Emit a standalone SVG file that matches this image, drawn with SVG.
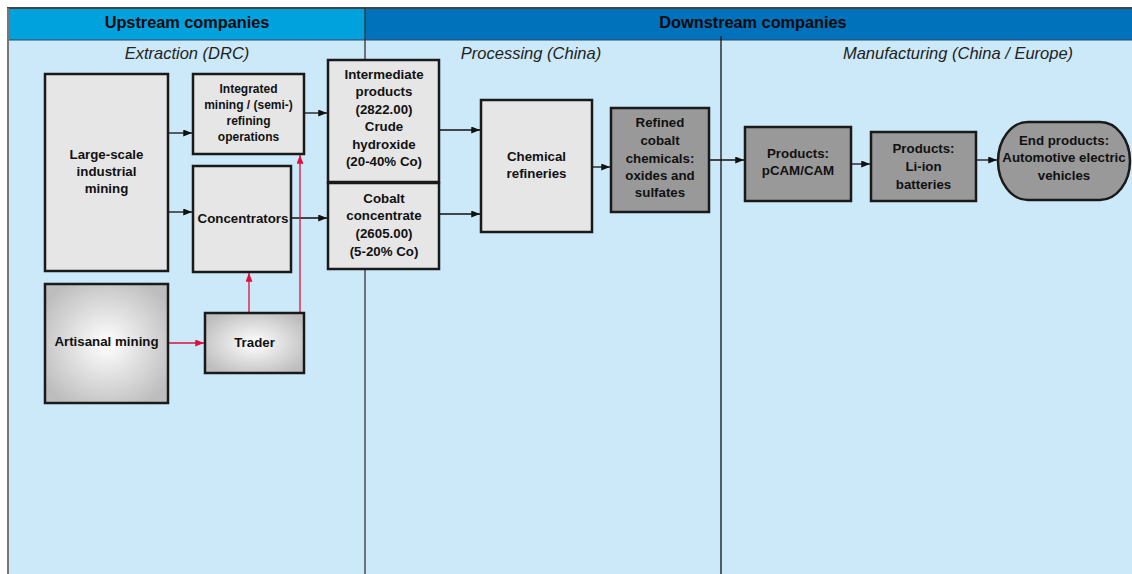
<svg xmlns="http://www.w3.org/2000/svg" width="1132" height="574" viewBox="0 0 1132 574">
<style>
.t{font-family:"Liberation Sans",Arial,sans-serif;font-weight:bold;font-size:13.3px;fill:#111;text-anchor:middle}
.h{font-family:"Liberation Sans",Arial,sans-serif;font-weight:bold;font-size:16.3px;fill:#0a0a0a;text-anchor:middle}
.s{font-family:"Liberation Sans",Arial,sans-serif;font-style:italic;font-size:16.5px;fill:#222;text-anchor:middle}
.box{fill:#e6e6e6;stroke:#1a1a1a;stroke-width:2.5}
.dk{fill:#999999;stroke:#1a1a1a;stroke-width:2.5}
.gr{fill:url(#rg);stroke:#1a1a1a;stroke-width:2.5}
.c{stroke:#111;stroke-width:1.3;fill:none;marker-end:url(#ab)}
.r{stroke:#e0103a;stroke-width:1.3;fill:none;marker-end:url(#ar)}
</style>
<defs>
<radialGradient id="rg" cx="0.5" cy="0.5" r="0.6">
<stop offset="0" stop-color="#ffffff"/>
<stop offset="1" stop-color="#bdbdbd"/>
</radialGradient>
<marker id="ab" viewBox="0 0 10 8" refX="10" refY="4" markerWidth="10" markerHeight="7" markerUnits="userSpaceOnUse" orient="auto"><path d="M0,0 L10,4 L0,8 Z" fill="#111"/></marker>
<marker id="ar" viewBox="0 0 10 8" refX="10" refY="4" markerWidth="10" markerHeight="7" markerUnits="userSpaceOnUse" orient="auto"><path d="M0,0 L10,4 L0,8 Z" fill="#e0103a"/></marker>
</defs>
<g id="background">
<rect x="0" y="0" width="1132" height="574" fill="#ffffff"/>
<rect x="8" y="8" width="1124" height="566" fill="#cce9fa"/>
<rect x="8" y="8" width="357" height="32" fill="#00a2de"/>
<rect x="365" y="8" width="767" height="32" fill="#0071bb"/>
<line x1="7" y1="8" x2="1132" y2="8" stroke="#444" stroke-width="2"/>
<line x1="8" y1="40" x2="1132" y2="40" stroke="#2a4a66" stroke-width="1.2"/>
<line x1="8" y1="8" x2="8" y2="574" stroke="#777" stroke-width="2"/>
<line x1="365" y1="8" x2="365" y2="574" stroke="#333" stroke-width="1.3"/>
<line x1="721" y1="36" x2="721" y2="574" stroke="#111" stroke-width="1.3"/>
<text class="h" x="187" y="28">Upstream companies</text>
<text class="h" x="753" y="28">Downstream companies</text>
<text class="s" x="187" y="59">Extraction (DRC)</text>
<text class="s" x="531" y="59">Processing (China)</text>
<text class="s" x="958" y="59">Manufacturing (China / Europe)</text>
</g>
<g id="connectors">
<line class="c" x1="168" y1="133" x2="192" y2="133"/>
<line class="c" x1="168" y1="212" x2="192" y2="212"/>
<line class="c" x1="304" y1="113" x2="327" y2="113"/>
<line class="c" x1="291" y1="218" x2="327" y2="218"/>
<line class="r" x1="168" y1="343" x2="204" y2="343"/>
<line class="r" x1="249" y1="313" x2="249" y2="273"/>
<line class="r" x1="300" y1="313" x2="300" y2="155"/>
<line class="c" x1="439" y1="130" x2="480" y2="130"/>
<line class="c" x1="439" y1="214" x2="480" y2="214"/>
<line class="c" x1="592" y1="167" x2="610" y2="167"/>
<line class="c" x1="709" y1="160" x2="744" y2="160"/>
<line class="c" x1="851" y1="164" x2="870" y2="164"/>
<line class="c" x1="976" y1="160" x2="997" y2="160"/>
</g>
<g id="large-scale">
<rect class="box" x="45" y="74" width="123" height="197"/>
<text class="t" x="106.5" y="159">Large-scale</text>
<text class="t" x="106.5" y="176">industrial</text>
<text class="t" x="106.5" y="193">mining</text>
</g>
<g id="integrated">
<rect class="box" x="193" y="74" width="111" height="80"/>
<text class="t" style="font-size:12px" x="248.5" y="93">Integrated</text>
<text class="t" style="font-size:12px" x="248.5" y="109">mining / (semi-)</text>
<text class="t" style="font-size:12px" x="248.5" y="125">refining</text>
<text class="t" style="font-size:12px" x="248.5" y="141">operations</text>
</g>
<g id="concentrators">
<rect class="box" x="193" y="166" width="98" height="106"/>
<text class="t" x="243" y="223">Concentrators</text>
</g>
<g id="artisanal">
<rect class="gr" x="45" y="284" width="123" height="119"/>
<text class="t" x="106.5" y="346">Artisanal mining</text>
</g>
<g id="trader">
<rect class="gr" x="205" y="313" width="99" height="60"/>
<text class="t" x="254.5" y="347">Trader</text>
</g>
<g id="intermediate">
<rect class="box" x="328" y="60" width="111" height="122"/>
<text class="t" x="384" y="79">Intermediate</text>
<text class="t" x="384" y="96">products</text>
<text class="t" x="384" y="114">(2822.00)</text>
<text class="t" x="384" y="131">Crude</text>
<text class="t" x="384" y="149">hydroxide</text>
<text class="t" x="384" y="166">(20-40% Co)</text>
</g>
<g id="cobalt-concentrate">
<rect class="box" x="328" y="183" width="111" height="86"/>
<text class="t" x="384" y="203">Cobalt</text>
<text class="t" x="384" y="220">concentrate</text>
<text class="t" x="384" y="238">(2605.00)</text>
<text class="t" x="384" y="256">(5-20% Co)</text>
</g>
<g id="chemical">
<rect class="box" x="481" y="100" width="111" height="132"/>
<text class="t" x="536.5" y="161">Chemical</text>
<text class="t" x="536.5" y="178">refineries</text>
</g>
<g id="refined">
<rect class="dk" x="611" y="108" width="98" height="104"/>
<text class="t" x="660" y="127">Refined</text>
<text class="t" x="660" y="145">cobalt</text>
<text class="t" x="660" y="163">chemicals:</text>
<text class="t" x="660" y="180">oxides and</text>
<text class="t" x="660" y="197">sulfates</text>
</g>
<g id="pcam">
<rect class="dk" x="745" y="127" width="106" height="74"/>
<text class="t" x="798" y="158">Products:</text>
<text class="t" x="798" y="175">pCAM/CAM</text>
</g>
<g id="li-ion">
<rect class="dk" x="871" y="132" width="105" height="69"/>
<text class="t" x="923.5" y="153">Products:</text>
<text class="t" x="923.5" y="171">Li-ion</text>
<text class="t" x="923.5" y="189">batteries</text>
</g>
<g id="end-products">
<rect class="dk" x="998" y="122" width="132" height="78" rx="30" ry="39"/>
<text class="t" x="1064" y="145">End products:</text>
<text class="t" x="1064" y="162">Automotive electric</text>
<text class="t" x="1064" y="180">vehicles</text>
</g>
</svg>
